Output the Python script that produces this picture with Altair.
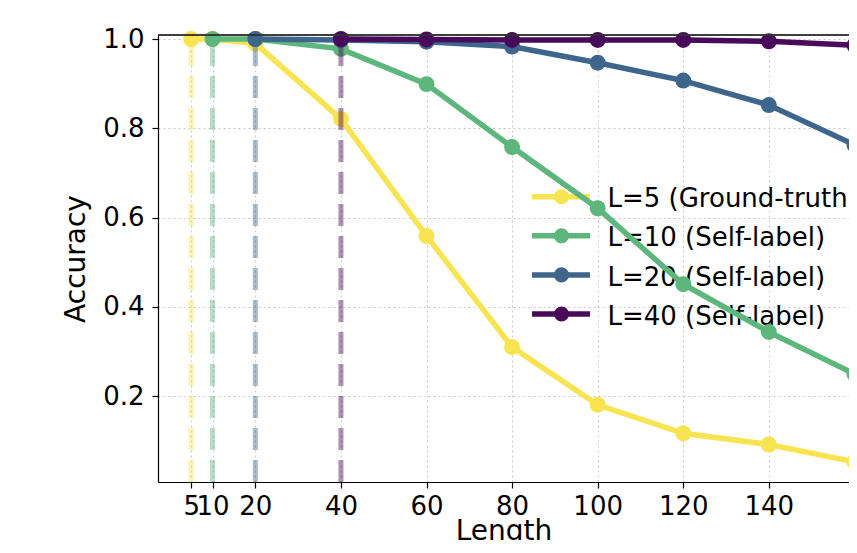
import altair as alt
import pandas as pd

series_names = ["L=5 (Ground-truth)", "L=10 (Self-label)", "L=20 (Self-label)", "L=40 (Self-label)"]
series_colors = ["#f7e450", "#5db67c", "#3e668c", "#480a5a"]
train_lengths = [5, 10, 20, 40]

len_L5 = [5, 10, 20, 40, 60, 80, 100, 120, 140, 160]
acc_L5 = [1.0, 1.0, 0.99, 0.821, 0.559, 0.310, 0.181, 0.117, 0.092, 0.053]
len_L10 = [10, 20, 40, 60, 80, 100, 120, 140, 160]
acc_L10 = [1.0, 1.0, 0.978, 0.899, 0.758, 0.621, 0.451, 0.344, 0.250]
len_L20 = [20, 40, 60, 80, 100, 120, 140, 160]
acc_L20 = [1.0, 0.998, 0.994, 0.983, 0.947, 0.907, 0.852, 0.763]
len_L40 = [40, 60, 80, 100, 120, 140, 160]
acc_L40 = [1.0, 0.999, 0.998, 0.998, 0.998, 0.995, 0.986]

x_ticks = [5, 10, 20, 40, 60, 80, 100, 120, 140, 160]
y_ticks = [0.2, 0.4, 0.6, 0.8, 1.0]

PX_PER_UNIT = 4.279
X_MIN = -2.75
W, H = 691, 447
FONT = "DejaVu Sans"

frames = []
for name, xs, ys in zip(series_names, [len_L5, len_L10, len_L20, len_L40],
                        [acc_L5, acc_L10, acc_L20, acc_L40]):
    frames.append(pd.DataFrame({"Length": xs, "Accuracy": ys, "series": name}))
df = pd.concat(frames, ignore_index=True)
df_v = pd.DataFrame({"Length": train_lengths, "series": series_names})
leg_df = pd.DataFrame({"series": series_names})

color_scale = alt.Scale(domain=series_names, range=series_colors)
color_enc = alt.Color("series:N", scale=color_scale, legend=None)

x_enc = alt.X("Length:Q",
              scale=alt.Scale(domain=[X_MIN, X_MIN + W / PX_PER_UNIT], nice=False, zero=False),
              axis=alt.Axis(values=x_ticks, title="Length", labelOverlap=False,
                            labelFlush=False, labelBound=False, format="d"))
y_enc = alt.Y("Accuracy:Q",
              scale=alt.Scale(domain=[0.008, 1.009], nice=False, zero=False),
              axis=alt.Axis(values=y_ticks, title="Accuracy", format=".1f"))

layers = []

# legend (drawn in the plot area, beneath the data lines)
LEG_X0, LEG_X1, LEG_DOT, LEG_TXT = 374, 432, 403.5, 449.5
LEG_Y0, LEG_STEP = 161.7, 39.1
for i, name in enumerate(series_names):
    yc = LEG_Y0 + i * LEG_STEP
    base = alt.Chart(leg_df).transform_filter(alt.datum.series == name)
    seg = base.mark_rule(strokeWidth=5.5).encode(
        x=alt.value(LEG_X0), x2=alt.value(LEG_X1), y=alt.value(yc), color=color_enc)
    dot = base.mark_circle(size=227, opacity=1).encode(
        x=alt.value(LEG_DOT), y=alt.value(yc), color=color_enc)
    txt = base.mark_text(align="left", baseline="alphabetic", fontSize=26, font=FONT,
                         color="black").encode(
        x=alt.value(LEG_TXT), y=alt.value(yc + 10.6), text="series:N")
    layers += [seg, dot, txt]

for i, name in enumerate(series_names):
    sub = alt.Chart(df).transform_filter(alt.datum.series == name)
    line = sub.mark_line(strokeWidth=5.5).encode(x=x_enc, y=y_enc, color=color_enc)
    pts = sub.mark_circle(size=255, opacity=1).encode(x=x_enc, y=y_enc, color=color_enc)
    layers += [line, pts]

vlines = alt.Chart(df_v).mark_rule(strokeDash=[22, 10], strokeWidth=5, opacity=0.45).encode(
    x=x_enc, y=alt.value(H), y2=alt.value(0), color=color_enc,
)
layers.append(vlines)

top_border = alt.Chart(df_v).mark_rule(color="#333333", strokeWidth=1.2).encode(
    x=alt.value(0), x2=alt.value(W), y=alt.value(0)
)
layers.append(top_border)

chart = alt.layer(*layers).properties(
    width=W, height=H,
    autosize=alt.AutoSizeParams(type="none"),
    padding={"left": 150, "top": 27, "right": 0, "bottom": 58},
    background="white",
).configure_view(stroke=None).configure_axis(
    labelFont=FONT, titleFont=FONT, labelFontSize=26, titleFontSize=28,
    titleFontWeight="normal", labelColor="black", titleColor="black",
    domainColor="black", domainWidth=1.2, tickColor="black", tickSize=6, tickWidth=1.2,
    labelPadding=8, grid=True, gridColor="#c8c8c8", gridDash=[2, 3], gridWidth=1,
).configure_axisY(titlePadding=12).configure_axisX(
    labelPadding=5, titleBaseline="alphabetic", titleY=57
)

chart.save("out.html", embed_options={"renderer": "svg", "actions": False})
